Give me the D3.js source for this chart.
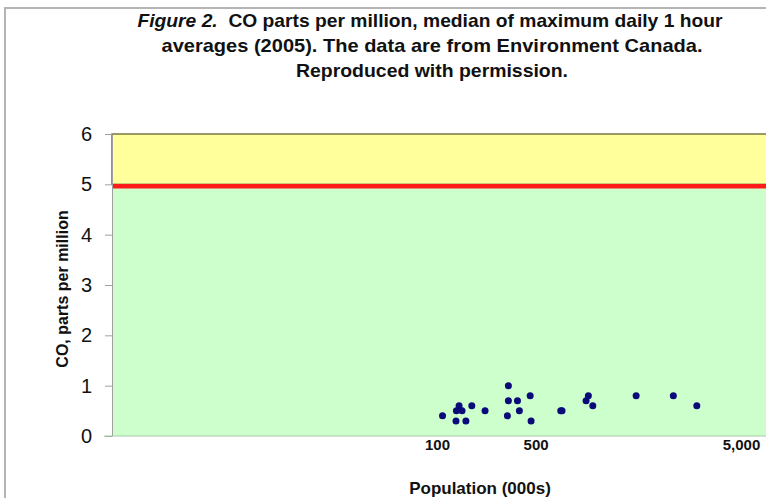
<!DOCTYPE html>
<html>
<head>
<meta charset="utf-8">
<script src="https://cdn.jsdelivr.net/npm/d3@7"></script>
<style>
  html, body { margin: 0; padding: 0; background: #fff; overflow: hidden; }
  svg { display: block; font-family: "Liberation Sans", Arial, sans-serif; }
</style>
</head>
<body>
<svg id="chart" width="766" height="498"></svg>
<script>
// Population of each monitored city (thousands) and its CO median (ppm)
const population = [111, 143, 142, 150, 158, 169, 187, 233,
                    336, 336, 385, 331, 396, 463, 469,
                    704, 716, 973, 1001, 1057, 1749, 2602, 3294];
const coMedian   = [0.4, 0.5, 0.3, 0.6, 0.5, 0.3, 0.6, 0.5,
                    1.0, 0.7, 0.7, 0.4, 0.5, 0.8, 0.3,
                    0.5, 0.5, 0.7, 0.8, 0.6, 0.8, 0.8, 0.6];

const yTicks = [0, 1, 2, 3, 4, 5, 6];
const xTicks = [100, 500, 5000];
const standardLimit = 5;   // air-quality objective, ppm
const yMax = 6;

const titleLines = [
  "CO parts per million, median of maximum daily 1 hour",
  "averages (2005). The data are from Environment Canada.",
  "Reproduced with permission."
];

const svg = d3.select("#chart");

// frame around the figure
svg.append("rect")
  .attr("x", 5).attr("y", 8).attr("width", 820).attr("height", 600)
  .attr("fill", "none").attr("stroke", "#b4b4b4").attr("stroke-width", 2);

const plotLeft = 112, plotRight = 800;

const y = d3.scaleLinear().domain([0, yMax]).range([436, 134]);
const x = d3.scalePow().exponent(0.19).domain([100, 5000]).range([437, 741]);

// zones: acceptable (green) below the limit, above it (yellow)
svg.append("rect")
  .attr("x", plotLeft).attr("y", y(standardLimit))
  .attr("width", plotRight - plotLeft).attr("height", y(0) - y(standardLimit))
  .attr("fill", "#ccffcc");
svg.append("rect")
  .attr("x", plotLeft).attr("y", y(yMax))
  .attr("width", plotRight - plotLeft).attr("height", y(standardLimit) - y(yMax))
  .attr("fill", "#ffff9c").attr("stroke", "#6e6e3c").attr("stroke-width", 1.4);

// limit line
svg.append("line")
  .attr("x1", plotLeft).attr("x2", plotRight)
  .attr("y1", y(standardLimit) + 1.8).attr("y2", y(standardLimit) + 1.8)
  .attr("stroke", "#ff1a1a").attr("stroke-width", 4.5);

// y axis
const yAxis = svg.append("g")
  .attr("transform", `translate(${plotLeft},0)`)
  .call(d3.axisLeft(y).tickValues(yTicks).tickFormat(d3.format("d"))
    .tickSize(7).tickSizeOuter(0).tickPadding(13));
yAxis.select(".domain").attr("stroke", "#a0a0a0");
yAxis.selectAll(".tick line").attr("stroke", "#a0a0a0");
yAxis.selectAll(".tick text")
  .attr("font-size", 20).attr("fill", "#111")
  .attr("font-family", "Liberation Sans, Arial, sans-serif");

// x axis (labels only)
const xAxis = svg.append("g")
  .attr("transform", `translate(0,${y(0)})`)
  .call(d3.axisBottom(x).tickValues(xTicks).tickFormat(d3.format(","))
    .tickSize(0).tickPadding(3));
xAxis.select(".domain").remove();
xAxis.selectAll(".tick text")
  .attr("font-size", 15).attr("font-weight", "bold").attr("fill", "#111")
  .attr("font-family", "Liberation Sans, Arial, sans-serif");

// bottom edge of plot area
svg.append("line")
  .attr("x1", plotLeft - 8).attr("x2", plotRight)
  .attr("y1", y(0)).attr("y2", y(0))
  .attr("stroke", "#a8c8a8").attr("stroke-width", 1);

// city points
svg.append("g").selectAll("circle")
  .data(d3.range(population.length))
  .join("circle")
  .attr("cx", i => x(population[i]))
  .attr("cy", i => y(coMedian[i]))
  .attr("r", 3.5)
  .attr("fill", "#0a0a78");

// title
const title = svg.append("g").attr("font-weight", "bold").attr("fill", "#111");
const t1 = title.append("text").attr("x", 430).attr("y", 27)
  .attr("text-anchor", "middle").attr("font-size", 19)
  .attr("textLength", 585).attr("lengthAdjust", "spacingAndGlyphs");
t1.append("tspan").attr("font-style", "italic").text("Figure 2.");
t1.append("tspan").text("\u00a0 " + titleLines[0]);
title.append("text").attr("x", 432).attr("y", 52)
  .attr("text-anchor", "middle").attr("font-size", 19)
  .attr("textLength", 541).attr("lengthAdjust", "spacingAndGlyphs")
  .text(titleLines[1]);
title.append("text").attr("x", 432).attr("y", 77)
  .attr("text-anchor", "middle").attr("font-size", 19)
  .attr("textLength", 272).attr("lengthAdjust", "spacingAndGlyphs")
  .text(titleLines[2]);

// axis titles
svg.append("text")
  .attr("transform", "translate(68,289) rotate(-90)")
  .attr("text-anchor", "middle").attr("font-size", 16).attr("font-weight", "bold")
  .attr("fill", "#111")
  .text("CO, parts per million");
svg.append("text")
  .attr("x", 480).attr("y", 494)
  .attr("text-anchor", "middle").attr("font-size", 17).attr("font-weight", "bold")
  .attr("fill", "#111")
  .text("Population (000s)");
</script>
</body>
</html>
